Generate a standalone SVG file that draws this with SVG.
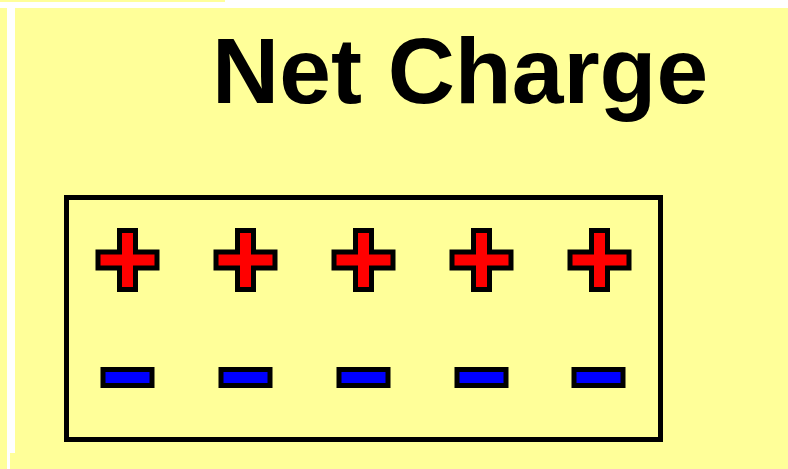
<svg xmlns="http://www.w3.org/2000/svg" width="788" height="469" viewBox="0 0 788 469">
  <style>
    .bg { fill: #FFFF99; }
    .edge { fill: #FFFFFF; }
    .title { font-family: "Liberation Sans", Arial, sans-serif; font-weight: bold; font-size: 93px; fill: #000000; }
    .frame { fill: none; stroke: #000000; stroke-width: 5; }
    .plus { fill: #FF0000; stroke: #000000; stroke-width: 5; stroke-linejoin: miter; }
    .minus { fill: #0000FF; stroke: #000000; stroke-width: 5; }
  </style>
  <defs>
    <!-- cross centred on the origin -->
    <polygon id="plusShape" points="-8,-29.5 8,-29.5 8,-8 29.5,-8 29.5,8 8,8 8,29.5 -8,29.5 -8,8 -29.5,8 -29.5,-8 -8,-8"/>
    <!-- bar centred on the origin -->
    <rect id="minusShape" x="-24.5" y="-8" width="49" height="16"/>
  </defs>

  <!-- page background with white margin strips -->
  <rect class="bg" x="0" y="0" width="788" height="469"/>
  <rect class="edge" x="225" y="0" width="563" height="2"/>
  <rect class="edge" x="0" y="2" width="788" height="6"/>
  <rect class="edge" x="7" y="2" width="3" height="467"/>
  <rect class="edge" x="10" y="8" width="5" height="445"/>

  <g id="title">
    <text class="title" x="212" y="103">Net Charge</text>
  </g>

  <g id="container">
    <rect class="frame" x="66.5" y="197.5" width="594" height="242"/>
  </g>

  <g id="positive-charges">
    <use href="#plusShape" class="plus" x="127.5" y="260"/>
    <use href="#plusShape" class="plus" x="245.5" y="260"/>
    <use href="#plusShape" class="plus" x="363.5" y="260"/>
    <use href="#plusShape" class="plus" x="481.5" y="260"/>
    <use href="#plusShape" class="plus" x="599.5" y="260"/>
  </g>

  <g id="negative-charges">
    <use href="#minusShape" class="minus" x="127.5" y="377.5"/>
    <use href="#minusShape" class="minus" x="245.5" y="377.5"/>
    <use href="#minusShape" class="minus" x="363.5" y="377.5"/>
    <use href="#minusShape" class="minus" x="481.5" y="377.5"/>
    <use href="#minusShape" class="minus" x="598.5" y="377.5"/>
  </g>
</svg>
